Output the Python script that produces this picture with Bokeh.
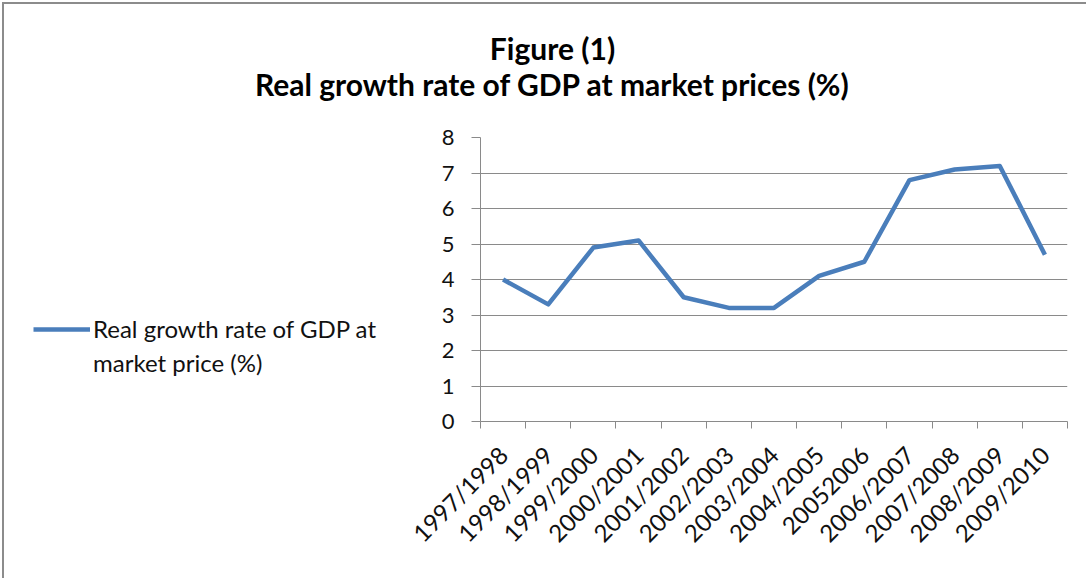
import math
from bokeh.plotting import figure
from bokeh.layouts import column, row
from bokeh.models import FixedTicker, Legend, LegendItem, Label, Range1d
from bokeh.embed import file_html
from bokeh.resources import INLINE

categories = ["1997/1998", "1998/1999", "1999/2000", "2000/2001", "2001/2002",
              "2002/2003", "2003/2004", "2004/2005", "20052006", "2006/2007",
              "2007/2008", "2008/2009", "2009/2010"]
growth = [4.0, 3.3, 4.9, 5.1, 3.5, 3.2, 3.2, 4.1, 4.5, 6.8, 7.1, 7.2, 4.7]
y_ticks = [0, 1, 2, 3, 4, 5, 6, 7, 8]
title_line1 = "Figure (1)"
title_line2 = "Real growth rate of GDP at market prices (%)"
legend_line1 = "Real growth rate of GDP at"
legend_line2 = "market price (%)"

FONT = "Lato"
GRID = "#8a8a8a"
BLUE = "#4a7ebb"
TXT = "#111111"

x_pos = [i + 0.5 for i in range(len(categories))]


def blank(fig):
    fig.outline_line_color = None
    fig.xgrid.grid_line_color = None
    fig.ygrid.grid_line_color = None
    fig.background_fill_color = "white"
    fig.border_fill_color = "white"


# ---- title strip (full width) ----
tf = figure(width=1082, height=98, output_backend="svg", toolbar_location=None,
            x_range=Range1d(0, 1082), y_range=Range1d(0, 98),
            x_axis_location=None, y_axis_location=None,
            min_border_left=0, min_border_right=0, min_border_top=0, min_border_bottom=0)
blank(tf)
tf.add_layout(Label(x=548, y=55, text=title_line1, text_align="center",
                    text_baseline="middle", text_font=FONT, text_font_size="30px",
                    text_font_style="bold", text_color="#000000"))
tf.add_layout(Label(x=548, y=19, text=title_line2, text_align="center",
                    text_baseline="middle", text_font=FONT, text_font_size="30px",
                    text_font_style="bold", text_color="#000000"))

# ---- legend panel (left) ----
lf = figure(width=385, height=476, output_backend="svg", toolbar_location=None,
            x_range=Range1d(0, 1), y_range=Range1d(0, 1),
            x_axis_location=None, y_axis_location=None,
            min_border_left=0, min_border_right=0, min_border_top=0, min_border_bottom=0)
blank(lf)
lr1 = lf.line(x_pos, growth, line_color=BLUE, line_width=4.5, visible=False)
lr2 = lf.line(x_pos, growth, line_color=BLUE, line_alpha=0, visible=False)
legend = Legend(items=[LegendItem(label=legend_line1, renderers=[lr1]),
                       LegendItem(label=legend_line2, renderers=[lr2])],
                location=(29, 44), glyph_width=57, glyph_height=20,
                label_height=20, label_standoff=3, spacing=5,
                padding=0, margin=0, border_line_color=None,
                background_fill_alpha=0, label_text_font=FONT,
                label_text_font_size="24px", label_text_color=TXT)
lf.add_layout(legend, "center")

# ---- main chart ----
p = figure(width=695, height=476, output_backend="svg", toolbar_location=None,
           x_range=Range1d(0, len(categories)), y_range=Range1d(0, 8),
           min_border_left=91, min_border_right=17, min_border_top=35,
           min_border_bottom=157)
p.outline_line_color = None
p.background_fill_color = "white"
p.border_fill_color = "white"

p.line(x_pos, growth, line_color=BLUE, line_width=4.5, line_join="round")

xa = p.xaxis[0]
xa.ticker = FixedTicker(ticks=x_pos, minor_ticks=list(range(len(categories) + 1)))
xa.major_label_overrides = {v: c for v, c in zip(x_pos, categories)}
xa.major_tick_line_color = None
xa.minor_tick_line_color = GRID
xa.minor_tick_out = 7
xa.minor_tick_in = 0
xa.axis_line_color = GRID
xa.major_label_orientation = math.pi / 4
xa.major_label_standoff = 22
xa.major_label_text_font = FONT
xa.major_label_text_font_size = "24px"
xa.major_label_text_color = TXT

ya = p.yaxis[0]
ya.ticker = FixedTicker(ticks=y_ticks)
ya.axis_line_color = GRID
ya.major_tick_line_color = GRID
ya.major_tick_out = 9
ya.major_tick_in = 0
ya.minor_tick_line_color = None
ya.major_label_standoff = 17
ya.major_label_text_font = FONT
ya.major_label_text_font_size = "22px"
ya.major_label_text_color = TXT

p.xgrid.grid_line_color = None
p.ygrid.grid_line_color = GRID
p.ygrid.grid_line_width = 1
p.ygrid.ticker = FixedTicker(ticks=y_ticks)

layout = column(tf, row(lf, p))
layout.styles = {"border-left": "2px solid #8c8c8c", "border-top": "2px solid #8c8c8c",
                 "margin-left": "2px", "margin-top": "2px"}

open("out.html", "w").write(file_html(layout, INLINE))
